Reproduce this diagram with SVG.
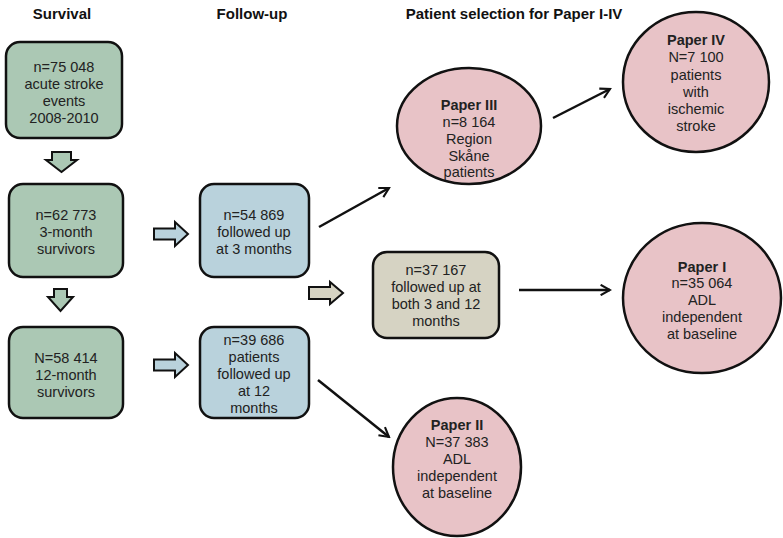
<svg xmlns="http://www.w3.org/2000/svg" width="783" height="538" viewBox="0 0 783 538">
<defs>
<style>
text{font-family:"Liberation Sans",Arial,sans-serif;font-size:14.5px;fill:#222;text-anchor:middle}
.h{font-weight:bold;font-size:15px;fill:#111}
.b{font-weight:bold}
.box{stroke:#111;stroke-width:2.5}
.g{fill:#abc8b4}
.bl{fill:#b9d2dc}
.t{fill:#d6d3c3}
.p{fill:#e8c3c7}
.ba{stroke:#111;stroke-width:2;stroke-linejoin:miter}
.ln{stroke:#111;stroke-width:2.5;fill:none;marker-end:url(#ah)}
</style>
<marker id="ah" viewBox="0 0 12 12" refX="10" refY="6" markerWidth="5" markerHeight="5" orient="auto" markerUnits="strokeWidth">
<polyline points="1,1 10,6 1,11" fill="none" stroke="#111" stroke-width="2"/>
</marker>
</defs>
<g id="headers">
<text class="h" x="62" y="19">Survival</text>
<text class="h" x="252" y="19">Follow-up</text>
<text class="h" x="514" y="19">Patient selection for Paper I-IV</text>
</g>
<g id="n1"><rect class="box g" x="6" y="42" width="116" height="96" rx="14"/>
<text x="64" y="72">n=75 048</text><text x="64" y="89">acute stroke</text><text x="64" y="106">events</text><text x="64" y="123">2008-2010</text></g>
<g id="n2"><rect class="box g" x="9" y="184" width="114" height="93" rx="14"/>
<text x="66" y="220">n=62 773</text><text x="66" y="237"> 3-month</text><text x="66" y="254">survivors</text></g>
<g id="n3"><rect class="box g" x="9" y="327" width="114" height="91" rx="14"/>
<text x="66" y="363">N=58 414</text><text x="66" y="380">12-month</text><text x="66" y="397">survivors</text></g>
<g id="n4"><rect class="box bl" x="200" y="184" width="109" height="93" rx="14"/>
<text x="254" y="220">n=54 869</text><text x="254" y="237">followed up</text><text x="254" y="254">at 3 months</text></g>
<g id="n5"><rect class="box bl" x="200" y="327" width="109" height="91" rx="14"/>
<text x="254" y="345">n=39 686</text><text x="254" y="362">patients</text><text x="254" y="379">followed up</text><text x="254" y="396">at 12</text><text x="254" y="413">months</text></g>
<g id="n6"><rect class="box t" x="373" y="252" width="126" height="86" rx="14"/>
<text x="436" y="275">n=37 167</text><text x="436" y="292">followed up at</text><text x="436" y="309">both 3 and 12</text><text x="436" y="326">months</text></g>
<g id="p3"><ellipse class="box p" cx="469" cy="126" rx="72" ry="58"/>
<text class="b" x="469" y="110">Paper III</text><text x="469" y="127">n=8 164</text><text x="469" y="144">Region</text><text x="469" y="161">Skåne</text><text x="469" y="177">patients</text></g>
<g id="p4"><ellipse class="box p" cx="696" cy="82" rx="73" ry="70"/>
<text class="b" x="696" y="45">Paper IV</text><text x="696" y="62">N=7 100</text><text x="696" y="80">patients</text><text x="696" y="97">with</text><text x="696" y="114">ischemic</text><text x="696" y="131">stroke</text></g>
<g id="p1"><ellipse class="box p" cx="702" cy="298" rx="79" ry="75"/>
<text class="b" x="702" y="272">Paper I</text><text x="702" y="288">n=35 064</text><text x="702" y="305">ADL</text><text x="702" y="322">independent</text><text x="702" y="339">at baseline</text></g>
<g id="p2"><ellipse class="box p" cx="457" cy="467" rx="64" ry="69"/>
<text class="b" x="457" y="430">Paper II</text><text x="457" y="447">N=37 383</text><text x="457" y="464">ADL</text><text x="457" y="481">independent</text><text x="457" y="498">at baseline</text></g>
<g id="connectors">
<polygon class="ba g" points="52,152 71,152 71,160 77,160 61.5,172 46,160 52,160"/>
<polygon class="ba g" points="54,289 67,289 67,297 73,297 60.5,311 48,297 54,297"/>
<polygon class="ba bl" points="154,228.5 175,228.5 175,222 188,234 175,246 175,239.5 154,239.5"/>
<polygon class="ba bl" points="154,359.5 175,359.5 175,353 188,365 175,377 175,370.5 154,370.5"/>
<polygon class="ba t" points="309,287 330,287 330,282 343,293 330,304 330,299 309,299"/>
<line class="ln" x1="319" y1="227" x2="389" y2="188"/>
<line class="ln" x1="318" y1="380" x2="389" y2="437"/>
<line class="ln" x1="519" y1="290" x2="610" y2="290"/>
<line class="ln" x1="553" y1="118" x2="610" y2="89"/>
</g>
</svg>
